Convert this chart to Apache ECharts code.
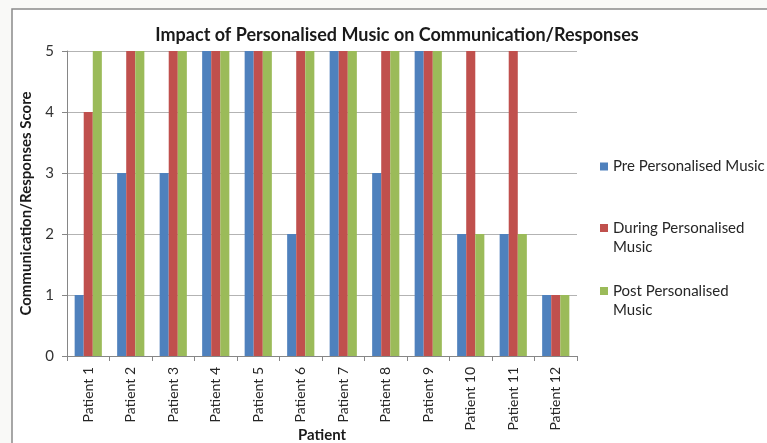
<!DOCTYPE html>
<html lang="en">
<head>
    <meta charset="UTF-8">
    <title>Impact of Personalised Music</title>
    <script src="https://cdn.jsdelivr.net/npm/echarts@6/dist/echarts.min.js"></script>
    <style>
        html, body { margin: 0; padding: 0; background: #f9f9f7; }
        #main { width: 767px; height: 443px; }
    </style>
</head>
<body>
<div id="main"></div>
<script>
    // data
    var patients = ['Patient 1', 'Patient 2', 'Patient 3', 'Patient 4', 'Patient 5', 'Patient 6',
        'Patient 7', 'Patient 8', 'Patient 9', 'Patient 10', 'Patient 11', 'Patient 12'];
    var preMusic = [1, 3, 3, 5, 5, 2, 5, 3, 5, 2, 2, 1];
    var duringMusic = [4, 5, 5, 5, 5, 5, 5, 5, 5, 5, 5, 1];
    var postMusic = [5, 5, 5, 5, 5, 5, 5, 5, 5, 2, 2, 1];
    var yTicks = [0, 1, 2, 3, 4, 5];

    var seriesNames = ['Pre Personalised Music', 'During Personalised Music', 'Post Personalised Music'];
    var colors = ['#4f81bd', '#c0504d', '#9bbb59'];
    var font = 'Lato, "Open Sans", sans-serif';

    var myChart = echarts.init(document.getElementById('main'));

    // one legend per item, so each can sit at its own height
    // two-line items get a taller icon box with the square at its top, so it sits by the first line
    function legendItem(name, top, label, twoLines) {
        return {
            left: 600, top: top, padding: 0,
            itemWidth: 8, itemHeight: twoLines ? 27 : 8, itemGap: 5,
            icon: twoLines ? 'path://M0,0H8V8H0Z M0,27H8' : 'rect',
            textStyle: { color: '#262626', fontSize: 15, fontFamily: font, lineHeight: 19 },
            data: [name],
            formatter: function () { return label; }
        };
    }

    var option = {
        backgroundColor: '#f9f9f7',
        animation: false,
        title: {
            text: 'Impact of Personalised Music on Communication/Responses',
            left: 392, top: 21, textAlign: 'center',
            textStyle: { fontFamily: font, fontSize: 18, fontWeight: 'bold', color: '#1a1a1a' }
        },
        graphic: [{
            type: 'rect', z: -10,
            shape: { x: 12, y: 9, width: 800, height: 500 },
            style: { fill: '#ffffff', stroke: '#8a8a8a', lineWidth: 1.5 }
        }],
        legend: [
            legendItem(seriesNames[0], 157, 'Pre Personalised Music', false),
            legendItem(seriesNames[1], 218.5, 'During Personalised\nMusic', true),
            legendItem(seriesNames[2], 281.5, 'Post Personalised\nMusic', true)
        ],
        grid: { left: 67, right: 190, top: 51, bottom: 87, outerBoundsMode: 'none' },
        xAxis: {
            type: 'category',
            data: patients,
            name: 'Patient',
            nameLocation: 'middle',
            nameGap: 72,
            nameMoveOverlap: false,
            nameTextStyle: { fontFamily: font, fontSize: 15, fontWeight: 'bold', color: '#1a1a1a' },
            axisLine: { lineStyle: { color: '#868686', width: 1 } },
            axisTick: { show: true, length: 5, lineStyle: { color: '#868686' } },
            axisLabel: { rotate: 90, margin: 11, fontFamily: font, fontSize: 14, color: '#262626', interval: 0 }
        },
        yAxis: {
            type: 'value',
            min: yTicks[0], max: yTicks[yTicks.length - 1], interval: 1,
            name: 'Communication/Responses Score',
            nameLocation: 'middle',
            nameGap: 33,
            nameMoveOverlap: false,
            nameTextStyle: { fontFamily: font, fontSize: 15, fontWeight: 'bold', color: '#1a1a1a' },
            axisLine: { show: true, lineStyle: { color: '#868686' } },
            axisTick: { show: true, length: 5, lineStyle: { color: '#868686' } },
            axisLabel: { margin: 13, fontFamily: font, fontSize: 15, color: '#333333' },
            splitLine: { lineStyle: { color: '#b3b3b3', width: 1 } }
        },
        series: [
            { name: seriesNames[0], type: 'bar', data: preMusic, itemStyle: { color: colors[0] },
              barGap: '0%', barCategoryGap: '36%' },
            { name: seriesNames[1], type: 'bar', data: duringMusic, itemStyle: { color: colors[1] } },
            { name: seriesNames[2], type: 'bar', data: postMusic, itemStyle: { color: colors[2] } }
        ]
    };

    myChart.setOption(option);
</script>
</body>
</html>
